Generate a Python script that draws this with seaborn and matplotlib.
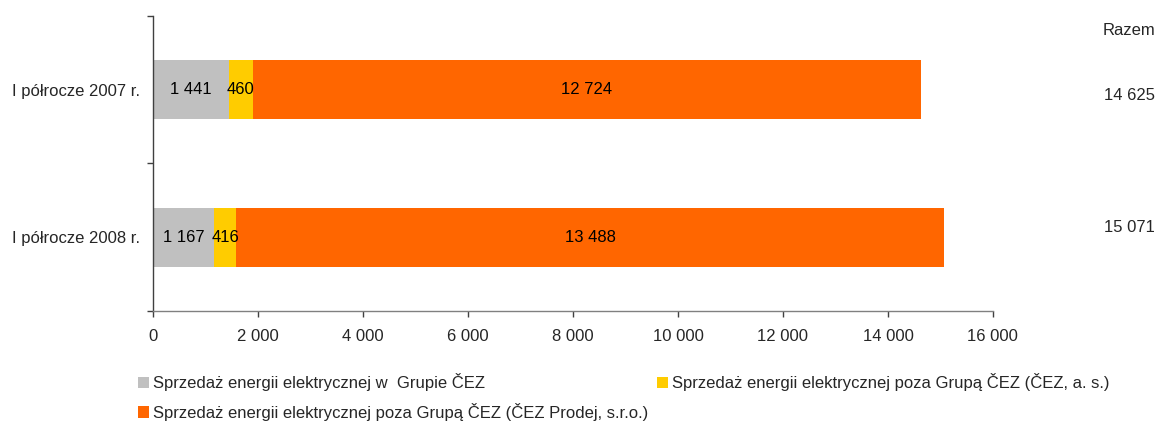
import pandas as pd
import matplotlib
matplotlib.use('Agg')
import matplotlib.pyplot as plt
import seaborn as sns
from matplotlib.patches import Patch
from matplotlib.ticker import FuncFormatter

# dane
okresy = ['I półrocze 2007 r.', 'I półrocze 2008 r.']
w_grupie = [1441, 1167]
poza_cez_as = [460, 416]
poza_cez_prodej = [12724, 13488]
serie = ['Sprzedaż energii elektrycznej w  Grupie ČEZ',
         'Sprzedaż energii elektrycznej poza Grupą ČEZ (ČEZ, a. s.)',
         'Sprzedaż energii elektrycznej poza Grupą ČEZ (ČEZ Prodej, s.r.o.)']
kolory = ['#C0C0C0', '#FFCC00', '#FF6600']
x_ticks = [0, 2000, 4000, 6000, 8000, 10000, 12000, 14000, 16000]


def fmt(v, pos=None):
    return f'{v:,.0f}'.replace(',', ' ')


sns.set_theme(style='white')
plt.rcParams['font.family'] = ['Liberation Sans', 'DejaVu Sans']
FS = 12

df = pd.DataFrame({'okres': okresy, serie[0]: w_grupie,
                   serie[1]: poza_cez_as, serie[2]: poza_cez_prodej})
cum = df[serie].cumsum(axis=1)
start = cum - df[serie]
razem = df[serie].sum(axis=1)

fig = plt.figure(figsize=(11.57, 4.23), dpi=100)
ax = fig.add_axes([0.1322, 0.2648, 0.7260, 0.6974])

# stacked bars: draw cumulative sums from the longest down
for s, c in reversed(list(zip(serie, kolory))):
    sns.barplot(x=cum[s], y=df['okres'], orient='h', color=c, saturation=1,
                width=0.4, linewidth=0, errorbar=None, ax=ax)

# value labels inside the segments
for s in serie:
    for i in range(len(df)):
        v = df[s][i]
        ax.text(start[s][i] + v / 2, i, fmt(v), ha='center', va='center',
                fontsize=FS, color='black')

# totals column
trans = ax.get_yaxis_transform()
ax.text(1.193, -0.405, 'Razem', transform=trans, ha='right', va='center', fontsize=FS)
for i, t in enumerate(razem):
    ax.text(1.193, i + [0.036, -0.063][i], fmt(t), transform=trans,
            ha='right', va='center', fontsize=FS)

ax.set_xlim(0, 16000)
ax.set_ylim(1.5, -0.5)
ax.set_xticks(x_ticks)
ax.xaxis.set_major_formatter(FuncFormatter(fmt))
ax.set_yticks([-0.5, 0.5, 1.5])
ax.set_yticklabels([])
ax.set_yticks([0, 1], minor=True)
ax.set_yticklabels(okresy, minor=True)
ax.tick_params(axis='y', which='major', length=4, width=1, color='#404040', direction='out', left=True)
ax.tick_params(axis='y', which='minor', length=0, pad=9, labelsize=FS)
ax.tick_params(axis='x', length=4, width=1, color='#404040', direction='out', bottom=True,
               pad=9, labelsize=FS)
ax.set_xlabel('')
ax.set_ylabel('')
sns.despine(ax=ax)
ax.spines['left'].set_color('#404040')
ax.spines['bottom'].set_color('#808080')
for sp in ['left', 'bottom']:
    ax.spines[sp].set_linewidth(1)

uchwyty = [Patch(facecolor=c, edgecolor='none') for c in kolory]
kolej = [0, 2, 1]
fig.legend([uchwyty[k] for k in kolej], [serie[k] for k in kolej],
           ncol=2, loc='upper left', bbox_to_anchor=(0.119, 0.118),
           frameon=False, fontsize=FS, handlelength=0.66, handleheight=0.66,
           handletextpad=0.25, columnspacing=0.55, labelspacing=0.7,
           borderaxespad=0, borderpad=0)

fig.savefig('out.png', dpi=100)
